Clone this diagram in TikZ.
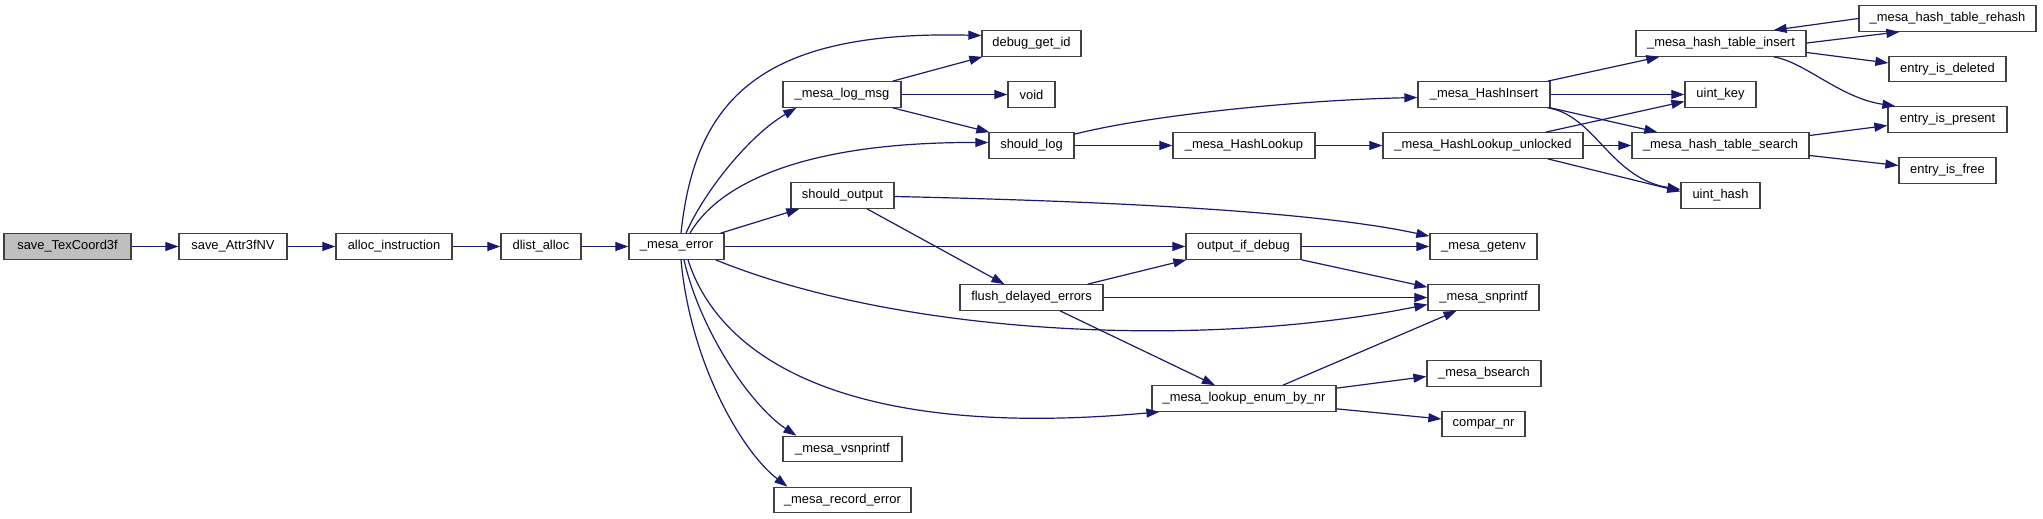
\documentclass[tikz,border=0pt]{standalone}
\usepackage{fontspec}
\setmainfont{Liberation Sans}
\usetikzlibrary{arrows.meta,calc}
\definecolor{edgec}{HTML}{191970}
\definecolor{boxc}{HTML}{404040}
\definecolor{rootfill}{HTML}{BFBFBF}
\begin{document}
\begin{tikzpicture}[x=1pt,y=-1pt,
  box/.style={draw=boxc,line width=1.3pt,fill=white,minimum height=25.4pt,inner sep=0pt,
    font=\fontsize{12.9}{15}\selectfont,anchor=center},
  edge/.style={draw=edgec,line width=1.2pt,-{Triangle[length=13pt,width=9pt]}}]
\path[use as bounding box,fill=white] (0,0) rectangle (2043,519);
% nodes
\node[box,fill=rootfill,minimum width=127pt] (stc) at (67.5,246.5) {save\_TexCoord3f};
\node[box,minimum width=108pt] (sa) at (233,246.5) {save\_Attr3fNV};
\node[box,minimum width=116pt] (ai) at (394,246.5) {alloc\_instruction};
\node[box,minimum width=80pt] (da) at (541,246.5) {dlist\_alloc};
\node[box,minimum width=95pt] (me) at (676.5,246.5) {\_mesa\_error};
\node[box,minimum width=118pt] (lm) at (842,94.5) {\_mesa\_log\_msg};
\node[box,minimum width=99pt] (dgi) at (1031.5,43.5) {debug\_get\_id};
\node[box,minimum width=47pt] (void) at (1031.5,94.5) {void};
\node[box,minimum width=85pt] (sl) at (1031.5,145.5) {should\_log};
\node[box,minimum width=103pt] (so) at (842.5,195.5) {should\_output};
\node[box,minimum width=143pt] (fde) at (1031.5,297.5) {flush\_delayed\_errors};
\node[box,minimum width=119pt] (vs) at (842.5,449) {\_mesa\_vsnprintf};
\node[box,minimum width=137pt] (re) at (842.5,500) {\_mesa\_record\_error};
\node[box,minimum width=115pt] (oid) at (1243.5,246.5) {output\_if\_debug};
\node[box,minimum width=107pt] (ge) at (1483.5,246.5) {\_mesa\_getenv};
\node[box,minimum width=111pt] (sn) at (1483.5,297.5) {\_mesa\_snprintf};
\node[box,minimum width=114pt] (bs) at (1484,373.5) {\_mesa\_bsearch};
\node[box,minimum width=184pt] (le) at (1244,398.5) {\_mesa\_lookup\_enum\_by\_nr};
\node[box,minimum width=83pt] (cn) at (1483.5,424) {compar\_nr};
\node[box,minimum width=132pt] (hi) at (1484,94.5) {\_mesa\_HashInsert};
\node[box,minimum width=142pt] (hl) at (1244,145.5) {\_mesa\_HashLookup};
\node[box,minimum width=200pt] (hlu) at (1483,145.5) {\_mesa\_HashLookup\_unlocked};
\node[box,minimum width=170pt] (hti) at (1721,43.5) {\_mesa\_hash\_table\_insert};
\node[box,minimum width=177pt] (htr) at (1947.5,18.5) {\_mesa\_hash\_table\_rehash};
\node[box,minimum width=117pt] (eid) at (1947.5,69) {entry\_is\_deleted};
\node[box,minimum width=71pt] (uk) at (1720.5,94.5) {uint\_key};
\node[box,minimum width=119pt] (eip) at (1947.5,119.5) {entry\_is\_present};
\node[box,minimum width=177pt] (hts) at (1720.5,145.5) {\_mesa\_hash\_table\_search};
\node[box,minimum width=97pt] (eif) at (1947.5,170.5) {entry\_is\_free};
\node[box,minimum width=79pt] (uh) at (1720.5,195.5) {uint\_hash};
% main chain
\draw[edge] (stc.east) -- (sa.west);
\draw[edge] (sa.east) -- (ai.west);
\draw[edge] (ai.east) -- (da.west);
\draw[edge] (da.east) -- (me.west);
% from _mesa_error
\draw[edge] ($(me.north)+(4.5,0)$) .. controls (695,100) and (760,30) .. ($(dgi.west)+(0,-8)$);
\draw[edge] ($(me.north)+(9.5,0)$) .. controls (705,190) and (750,135) .. ($(lm.south west)+(14,0)$);
\draw[edge] ($(me.north)+(13.5,0)$) .. controls (715,190) and (790,142) .. ($(sl.west)+(0,-3)$);
\draw[edge] ($(me.north east)+(-4,0)$) -- ($(so.south west)+(9,0)$);
\draw[edge] (me.east) -- (oid.west);
\draw[edge] ($(me.south east)+(-9,0)$) .. controls (900,335) and (1200,350) .. ($(sn.west)+(0,7)$);
\draw[edge] ($(me.south)+(11.5,0)$) .. controls (720,360) and (850,440) .. ($(le.south west)+(8,0)$);
\draw[edge] ($(me.south)+(7.5,0)$) .. controls (700,330) and (750,405) .. ($(vs.north west)+(14,0)$);
\draw[edge] ($(me.south)+(4.5,0)$) .. controls (690,360) and (740,450) .. ($(re.north west)+(14,0)$);
% from _mesa_log_msg
\draw[edge] ($(lm.north east)+(-9,0)$) -- ($(dgi.south west)+(1,0)$);
\draw[edge] (lm.east) -- (void.west);
\draw[edge] ($(lm.south east)+(-9,0)$) -- ($(sl.north west)+(1,0)$);
% from should_log
\draw[edge] ($(sl.north east)+(0,2)$) .. controls (1150,115) and (1300,100) .. ($(hi.west)+(0,3)$);
\draw[edge] (sl.east) -- (hl.west);
% from should_output
\draw[edge] ($(so.east)+(0,1)$) .. controls (1050,200) and (1300,208) .. ($(ge.north west)+(0,3)$);
\draw[edge] ($(so.south)+(24.5,0)$) -- ($(fde.north west)+(45,0)$);
% from flush_delayed_errors
\draw[edge] ($(fde.north east)+(-16,0)$) -- ($(oid.south west)+(1,0)$);
\draw[edge] (fde.east) -- (sn.west);
\draw[edge] ($(fde.south)+(28.5,0)$) -- ($(le.north)+(-29,0)$);
% from output_if_debug
\draw[edge] (oid.east) -- (ge.west);
\draw[edge] (oid.south east) -- ($(sn.north west)+(0,3)$);
% from _mesa_lookup_enum_by_nr
\draw[edge] ($(le.north)+(39,0)$) -- ($(sn.south)+(-27,0)$);
\draw[edge] ($(le.north east)+(0,3)$) -- ($(bs.west)+(0,3)$);
\draw[edge] ($(le.south east)+(0,-3)$) -- ($(cn.west)+(0,-5)$);
% hash lookup
\draw[edge] (hl.east) -- (hlu.west);
% from _mesa_HashInsert
\draw[edge] ($(hi.north east)+(-3,0)$) -- ($(hti.south west)+(24,0)$);
\draw[edge] (hi.east) -- (uk.west);
\draw[edge] (hi.south east) -- ($(hts.north west)+(26,0)$);
\draw[edge] ($(hi.south east)+(-3,0)$) .. controls (1595,115) and (1610,178) .. ($(uh.west)+(0,-6)$);
% from _mesa_HashLookup_unlocked
\draw[edge] ($(hlu.north east)+(-38,0)$) -- ($(uk.west)+(0,7)$);
\draw[edge] (hlu.east) -- (hts.west);
\draw[edge] ($(hlu.south east)+(-36,0)$) -- ($(uh.west)+(0,-4)$);
% from _mesa_hash_table_insert
\draw[edge] ($(hti.east)+(0,-0.5)$) -- ($(htr.south west)+(41,0)$);
\draw[edge] (htr.west) -- ($(hti.north east)+(-33,0)$);
\draw[edge] ($(hti.east)+(0,9)$) -- ($(eid.west)+(0,-6)$);
\draw[edge] ($(hti.south east)+(-33,0)$) .. controls (1805,62) and (1840,98) .. ($(eip.north west)+(8,0)$);
% from _mesa_hash_table_search
\draw[edge] ($(hts.east)+(0,-10)$) -- ($(eip.west)+(0,6)$);
\draw[edge] ($(hts.east)+(0,10)$) -- ($(eif.west)+(0,-5)$);
\end{tikzpicture}
\end{document}
